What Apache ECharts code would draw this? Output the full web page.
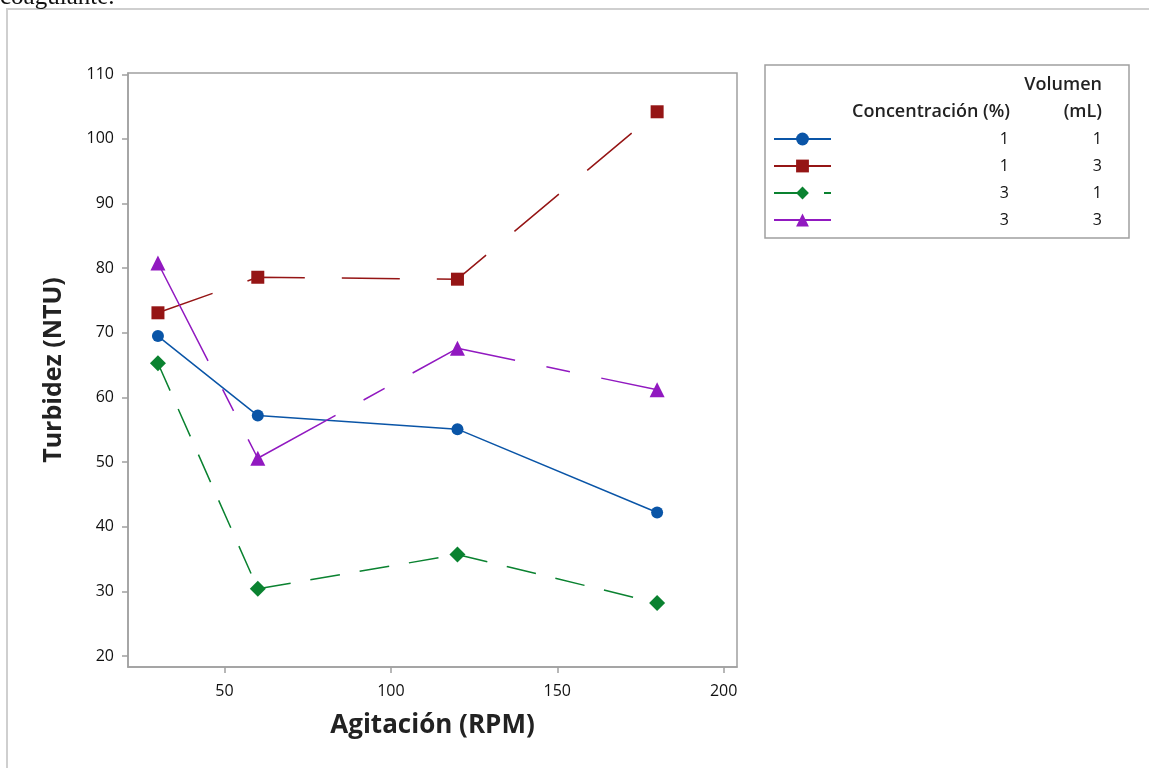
<!DOCTYPE html>
<html>
<head>
<meta charset="utf-8">
<script src="https://cdn.jsdelivr.net/npm/echarts@6/dist/echarts.min.js"></script>
<style>html,body{margin:0;padding:0;background:#fff;}#c{width:1149px;height:768px;}</style>
</head>
<body>
<div id="c"></div>
<script>
// ---- data ----
const agitacion = [30, 60, 120, 180];
const serie1 = [69.5, 57.2, 55.1, 42.2];   // Conc 1, Vol 1
const serie2 = [73.1, 78.6, 78.3, 104.2];  // Conc 1, Vol 3
const serie3 = [65.3, 30.4, 35.7, 28.2];   // Conc 3, Vol 1
const serie4 = [80.8, 50.6, 67.6, 61.2];   // Conc 3, Vol 3
const concentracion = [1, 1, 3, 3];
const volumen = [1, 3, 1, 3];
const yTicks = [20, 30, 40, 50, 60, 70, 80, 90, 100, 110];
const xTicks = [50, 100, 150, 200];

const FONT = "'Open Sans', 'Noto Sans', sans-serif";
const colors = ['#0a55a7', '#951515', '#0a8230', '#9119c0'];
const symbols = ['circle', 'rect', 'diamond', 'triangle'];
const symSizes = [12, 13, 16, 15];
const dashes = ['solid', [58, 37], [30, 20], [110, 32, 24, 32]];
const allSeries = [serie1, serie2, serie3, serie4];
const names = allSeries.map((s, i) => 'c' + concentracion[i] + 'v' + volumen[i]);

const chart = echarts.init(document.getElementById('c'), null, {renderer: 'canvas'});
chart.setOption({
  animation: false,
  backgroundColor: '#fff',
  grid: {left: 128, right: 412, top: 73, bottom: 101, show: true, borderColor: '#a0a0a0', borderWidth: 1.5},
  xAxis: {
    type: 'value', min: 21, max: 204,
    name: 'Agitación (RPM)', nameLocation: 'middle', nameGap: 46,
    nameTextStyle: {fontFamily: FONT, fontSize: 26, fontWeight: 'bold', color: '#222'},
    axisLine: {show: true, lineStyle: {color: '#a0a0a0', width: 1.5}},
    axisTick: {show: true, length: 6, lineStyle: {color: '#a0a0a0', width: 1.5}, customValues: xTicks},
    axisLabel: {fontFamily: FONT, fontSize: 16, color: '#111', margin: 16, customValues: xTicks},
    splitLine: {show: false}
  },
  yAxis: {
    type: 'value', min: 18.3, max: 110.2,
    name: 'Turbidez (NTU)', nameLocation: 'middle', nameGap: 62,
    nameTextStyle: {fontFamily: FONT, fontSize: 25, fontWeight: 'bold', color: '#222'},
    axisLine: {show: true, lineStyle: {color: '#a0a0a0', width: 1.5}},
    axisTick: {show: true, length: 6, lineStyle: {color: '#a0a0a0', width: 1.5}, customValues: yTicks},
    axisLabel: {fontFamily: FONT, fontSize: 16, color: '#111', margin: 14, customValues: yTicks},
    splitLine: {show: false}
  },
  legend: {
    orient: 'vertical', left: 773, top: 131, padding: 0,
    itemWidth: 57, itemHeight: 16, itemGap: 11,
    data: names,
    formatter: function (n) {
      const i = names.indexOf(n);
      return '{c|' + concentracion[i] + '}{v|' + volumen[i] + '}';
    },
    textStyle: {
      fontFamily: FONT, fontSize: 16, color: '#111', lineHeight: 16,
      rich: {
        c: {width: 173, align: 'right', fontFamily: FONT, fontSize: 16, lineHeight: 16, color: '#111'},
        v: {width: 93, align: 'right', fontFamily: FONT, fontSize: 16, lineHeight: 16, color: '#111'}
      }
    }
  },
  graphic: [
    {type: 'rect', shape: {x: 7, y: 9, width: 1150, height: 770}, style: {fill: 'none', stroke: '#cfcfcf', lineWidth: 2}, silent: true},
    {type: 'text', x: 0, y: -3, style: {text: 'coagulante.', font: '25px "Liberation Serif", serif', fill: '#111', verticalAlign: 'middle'}},
    {type: 'rect', shape: {x: 765, y: 65, width: 364, height: 173}, style: {fill: 'none', stroke: '#a0a0a0', lineWidth: 1.5}},
    {type: 'text', x: 1102, y: 85, style: {text: 'Volumen', font: '600 18px ' + FONT, fill: '#222', align: 'right', verticalAlign: 'middle'}},
    {type: 'text', x: 1010, y: 112, style: {text: 'Concentración (%)', font: '600 18px ' + FONT, fill: '#222', align: 'right', verticalAlign: 'middle'}},
    {type: 'text', x: 1102, y: 112, style: {text: '(mL)', font: '600 18px ' + FONT, fill: '#222', align: 'right', verticalAlign: 'middle'}}
  ],
  series: allSeries.map((s, i) => ({
    name: names[i],
    type: 'line',
    data: agitacion.map((x, j) => [x, s[j]]),
    symbol: symbols[i],
    symbolSize: symSizes[i],
    showAllSymbol: true,
    itemStyle: {color: colors[i]},
    lineStyle: {color: colors[i], width: 1.5, type: dashes[i]},
    z: 2 + i
  }))
});
</script>
</body>
</html>
